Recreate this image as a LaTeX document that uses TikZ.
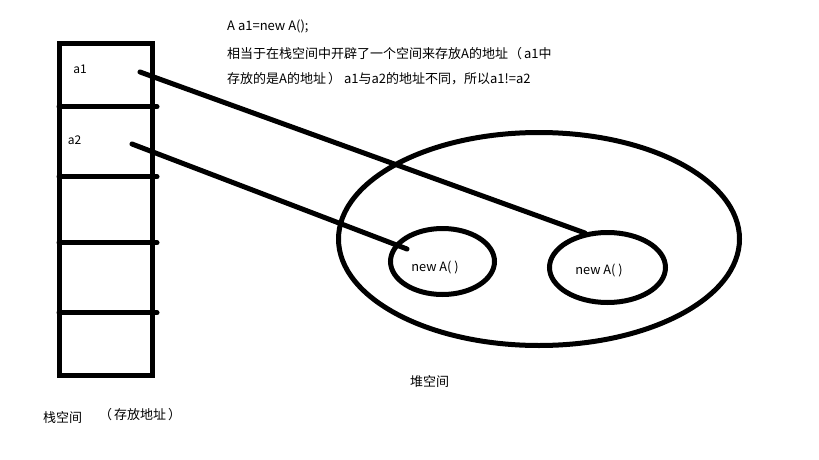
\documentclass[tikz,border=0pt]{standalone}
\usepackage{fontspec}
\setmainfont{Noto Sans CJK SC}
\usetikzlibrary{shapes.geometric}
\newcommand{\lpar}{\hspace{1pt}（\hspace{2pt}}
\newcommand{\rpar}{\hspace{2pt}）\hspace{3pt}}
\tikzset{
  thick line/.style={line width=5pt, line cap=round},
  heap/.style={draw, ellipse, line width=5pt, inner sep=0pt},
  lbl/.style={font=\fontsize{12}{14}\selectfont, inner sep=0pt},
  objlbl/.style={font=\fontsize{12.8}{15}\selectfont, inner sep=0pt},
  caption text/.style={font=\fontsize{13}{15}\selectfont, inner sep=0pt, anchor=west},
  note/.style={font=\fontsize{13}{15}\selectfont, inner sep=0pt, anchor=west},
}
\begin{document}
\begin{tikzpicture}[x=1pt,y=-1pt]
\useasboundingbox[fill=white] (0,0) rectangle (819,460);
% stack
\draw[line width=5pt] (59,44) rectangle (152.5,375.5);
\foreach \yy in {106.7,176.7,242.7,312.7}
  \draw[thick line] (59,\yy) -- (157,\yy);
\node[lbl] (a1) at (80,69) {a1};
\node[lbl] (a2) at (74.5,140) {a2};
% heap
\node[heap, minimum width=401pt, minimum height=213pt] (heapspace) at (539,239) {};
\node[heap, minimum width=104pt, minimum height=66pt] (objA) at (442.5,261.5) {};
\node[heap, minimum width=116pt, minimum height=70pt] (objB) at (607.5,267.5) {};
\node[objlbl] (tA) at (435,268) {new A( )};
\node[objlbl] (tB) at (599,271) {new A( )};
% pointers
\coordinate (p1s) at (140,72);
\coordinate (p1e) at (585,233);
\coordinate (p2s) at (132,144);
\coordinate (p2e) at (407,249);
\draw[thick line] (p1s) -- (p1e);
\draw[thick line] (p2s) -- (p2e);
% texts
\node[note] (n1) at (227,26) {A a1=new A();};
\node[note] (n2) at (227,54) {相当于在栈空间中开辟了一个空间来存放A的地址\lpar a1中};
\node[note] (n3) at (227,79) {存放的是A的地址\rpar a1与a2的地址不同，所以a1!=a2};
\node[caption text] (heaplbl) at (410,382) {堆空间};
\node[caption text] (stacklbl) at (43,418) {栈空间};
\node[caption text] (stacknote) at (98,415) {\lpar 存放地址\rpar};
\end{tikzpicture}
\end{document}
